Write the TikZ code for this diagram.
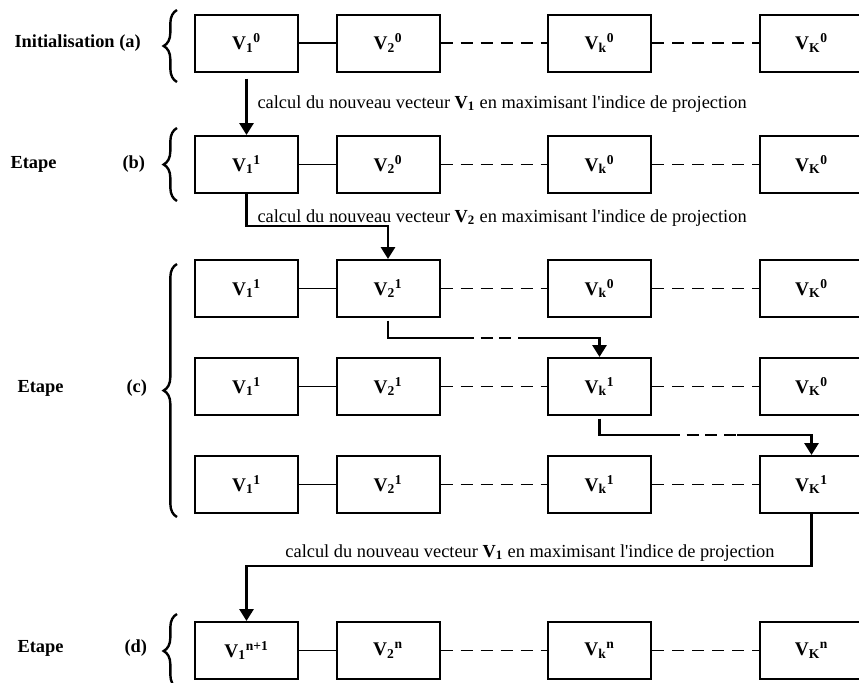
\documentclass[tikz,border=0pt]{standalone}
\usepackage{fontspec}
\setmainfont{Liberation Serif}
\usetikzlibrary{arrows.meta,decorations.pathreplacing}
\newcommand{\txtsize}{\fontsize{13.8pt}{16pt}\selectfont}
\newcommand{\boxsize}{\fontsize{14.5pt}{17pt}\selectfont}
\newcommand{\vv}[2]{V\textsubscript{#1}\textsuperscript{#2}}
\tikzset{every picture/.style={line width=0.75pt},
  vbox/.style={draw,line width=1.5pt,minimum width=77.25pt,minimum height=42.75pt,inner sep=0pt,font=\boxsize\bfseries},
  lbl/.style={anchor=west,inner sep=0pt,font=\txtsize\bfseries},
  note/.style={inner sep=0pt,font=\txtsize},
  link/.style={line width=1.1pt},
  gap/.style={line width=1.1pt,dash pattern=on 9pt off 6pt},
  flowline/.style={line width=2.2pt},
  flowgap/.style={line width=2.2pt,dash pattern=on 9pt off 5pt},
  flow/.style={line width=2.2pt,-{Triangle[width=10.5pt,length=9pt]}},
  brc/.style={decorate,decoration={brace,amplitude=10pt},line width=1.8pt}
}
\begin{document}
\begin{tikzpicture}[x=0.75pt,y=0.75pt,yscale=-1,xscale=1]
\useasboundingbox (0,0) rectangle (859,682);

\node[lbl] (la) at (14,43) {Initialisation (a)};
\node[lbl] (lb1) at (10,164.5) {Etape};
\node[lbl] (lb2) at (122,164.5) {(b)};
\node[lbl] (lc1) at (17,388) {Etape};
\node[lbl] (lc2) at (126,388) {(c)};
\node[lbl] (ld1) at (17,648) {Etape};
\node[lbl] (ld2) at (124,648) {(d)};

\draw[brc] (177,82) -- (177,10);
\draw[brc] (177,201) -- (177,128);
\draw[brc] (177,517) -- (177,264);
\draw[brc] (177,688) -- (177,614);

\node[vbox] (a1) at (246.5,43) {\vv{1}{0}};
\node[vbox] (a2) at (388,43) {\vv{2}{0}};
\node[vbox] (a3) at (599.5,43) {\vv{k}{0}};
\node[vbox] (a4) at (811.5,43) {\vv{K}{0}};
\node[vbox] (b1) at (246.5,164.5) {\vv{1}{1}};
\node[vbox] (b2) at (388,164.5) {\vv{2}{0}};
\node[vbox] (b3) at (599.5,164.5) {\vv{k}{0}};
\node[vbox] (b4) at (811.5,164.5) {\vv{K}{0}};
\node[vbox] (c1) at (246.5,288.5) {\vv{1}{1}};
\node[vbox] (c2) at (388,288.5) {\vv{2}{1}};
\node[vbox] (c3) at (599.5,288.5) {\vv{k}{0}};
\node[vbox] (c4) at (811.5,288.5) {\vv{K}{0}};
\node[vbox] (e1) at (246.5,386.5) {\vv{1}{1}};
\node[vbox] (e2) at (388,386.5) {\vv{2}{1}};
\node[vbox] (e3) at (599.5,386.5) {\vv{k}{1}};
\node[vbox] (e4) at (811.5,386.5) {\vv{K}{0}};
\node[vbox] (f1) at (246.5,484.5) {\vv{1}{1}};
\node[vbox] (f2) at (388,484.5) {\vv{2}{1}};
\node[vbox] (f3) at (599.5,484.5) {\vv{k}{1}};
\node[vbox] (f4) at (811.5,484.5) {\vv{K}{1}};
\node[vbox] (d1) at (246.5,650.5) {\vv{1}{n+1}};
\node[vbox] (d2) at (388,650.5) {\vv{2}{n}};
\node[vbox] (d3) at (599.5,650.5) {\vv{k}{n}};
\node[vbox] (d4) at (811.5,650.5) {\vv{K}{n}};

\draw[link] (a1) -- (a2);
\draw[gap] (a2) -- (a3);
\draw[gap] (a3) -- (a4);
\draw[link] (b1) -- (b2);
\draw[gap] (b2) -- (b3);
\draw[gap] (b3) -- (b4);
\draw[link] (c1) -- (c2);
\draw[gap] (c2) -- (c3);
\draw[gap] (c3) -- (c4);
\draw[link] (e1) -- (e2);
\draw[gap] (e2) -- (e3);
\draw[gap] (e3) -- (e4);
\draw[link] (f1) -- (f2);
\draw[gap] (f2) -- (f3);
\draw[gap] (f3) -- (f4);
\draw[link] (d1) -- (d2);
\draw[gap] (d2) -- (d3);
\draw[gap] (d3) -- (d4);

\node[note,anchor=base west] (t1) at (257,108) {calcul du nouveau vecteur \textbf{V\textsubscript{1}} en maximisant l\textquotesingle indice de projection};
\node[note,anchor=base west] (t2) at (257,222) {calcul du nouveau vecteur \textbf{V\textsubscript{2}} en maximisant l\textquotesingle indice de projection};
\node[note,anchor=base] (t3) at (530,557) {calcul du nouveau vecteur \textbf{V\textsubscript{1}} en maximisant l\textquotesingle indice de projection};

\coordinate (m1) at (462,338);
\coordinate (m2) at (518,338);
\coordinate (m3) at (668,435);
\coordinate (m4) at (737,435);

\draw[flow,shorten <=4.5pt] (a1.south) -- (b1.north);
\draw[flow] (b1.south) -- ++(0,32) -| (c2.north);
\draw[flowline,shorten <=2pt] (c2.south) |- (m1);
\draw[flowgap] (m1) -- (m2);
\draw[flow] (m2) -| (e3.north);
\draw[flowline,shorten <=2pt] (e3.south) |- (m3);
\draw[flowgap] (m3) -- (m4);
\draw[flow] (m4) -| (f4.north);
\draw[flow] (f4.south) -- ++(0,52) -| (d1.north);

\end{tikzpicture}
\end{document}
